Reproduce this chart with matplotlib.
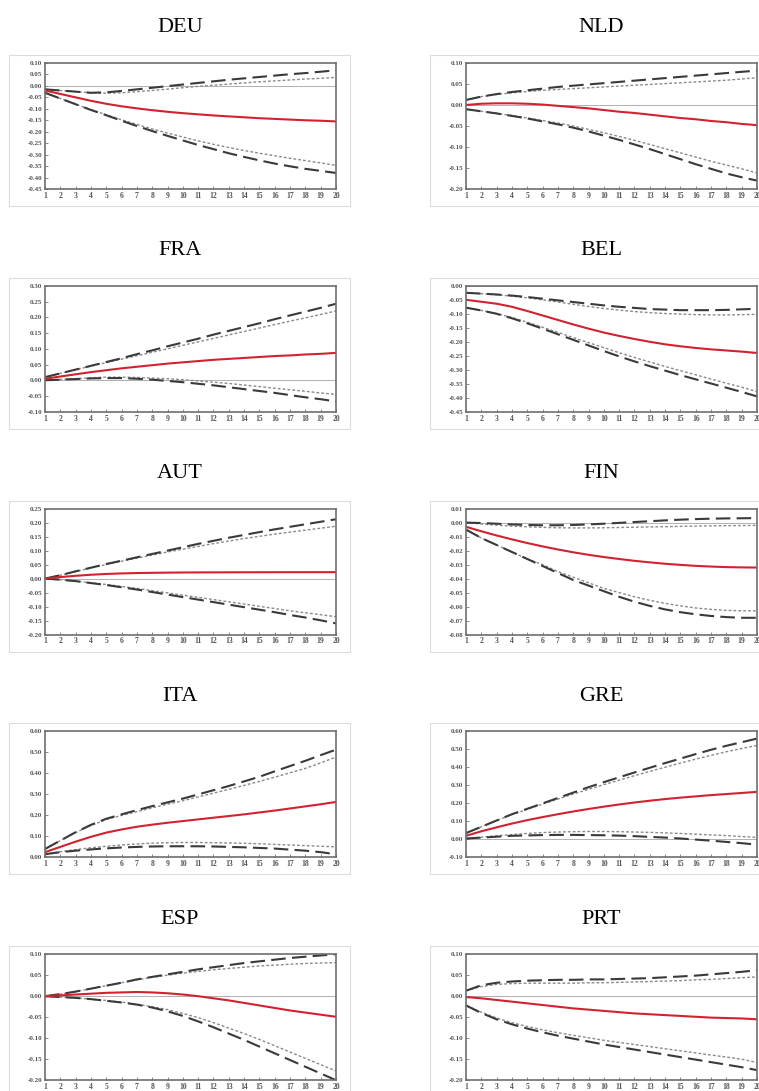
"""Impulse responses by country: median (red) with 68% (dotted) and 90% (dashed) bands."""

import matplotlib
matplotlib.use("Agg")
import matplotlib.pyplot as plt
from matplotlib.patches import Rectangle

horizon = list(range(1, 21))
countries = ["DEU", "NLD", "FRA", "BEL", "AUT", "FIN", "ITA", "GRE", "ESP", "PRT"]

y_ticks = {
    "DEU": [-0.45, -0.40, -0.35, -0.30, -0.25, -0.20, -0.15, -0.10, -0.05, 0.00, 0.05, 0.10],
    "NLD": [-0.20, -0.15, -0.10, -0.05, 0.00, 0.05, 0.10],
    "FRA": [-0.10, -0.05, 0.00, 0.05, 0.10, 0.15, 0.20, 0.25, 0.30],
    "BEL": [-0.45, -0.40, -0.35, -0.30, -0.25, -0.20, -0.15, -0.10, -0.05, 0.00],
    "AUT": [-0.20, -0.15, -0.10, -0.05, 0.00, 0.05, 0.10, 0.15, 0.20, 0.25],
    "FIN": [-0.08, -0.07, -0.06, -0.05, -0.04, -0.03, -0.02, -0.01, 0.00, 0.01],
    "ITA": [0.00, 0.10, 0.20, 0.30, 0.40, 0.50, 0.60],
    "GRE": [-0.10, 0.00, 0.10, 0.20, 0.30, 0.40, 0.50, 0.60],
    "ESP": [-0.20, -0.15, -0.10, -0.05, 0.00, 0.05, 0.10],
    "PRT": [-0.20, -0.15, -0.10, -0.05, 0.00, 0.05, 0.10],
}

# median response (red)
median = {
    "DEU": [-0.020, -0.035, -0.050, -0.065, -0.078, -0.089, -0.098, -0.106, -0.113, -0.119,
            -0.124, -0.129, -0.133, -0.137, -0.141, -0.144, -0.147, -0.150, -0.152, -0.155],
    "NLD": [0.000, 0.003, 0.004, 0.004, 0.003, 0.001, -0.002, -0.005, -0.008, -0.012,
            -0.016, -0.019, -0.023, -0.027, -0.031, -0.034, -0.038, -0.041, -0.045, -0.048],
    "FRA": [0.005, 0.012, 0.019, 0.026, 0.032, 0.038, 0.043, 0.048, 0.053, 0.057,
            0.061, 0.065, 0.068, 0.071, 0.074, 0.077, 0.079, 0.082, 0.084, 0.087],
    "BEL": [-0.050, -0.057, -0.064, -0.075, -0.090, -0.106, -0.122, -0.138, -0.153, -0.167,
            -0.179, -0.190, -0.200, -0.209, -0.216, -0.222, -0.227, -0.231, -0.235, -0.240],
    "AUT": [0.000, 0.0055, 0.0100, 0.0138, 0.0166, 0.0185, 0.0198, 0.0207, 0.0213, 0.0218,
            0.0221, 0.0223, 0.0225, 0.0226, 0.0227, 0.0228, 0.0229, 0.0229, 0.0230, 0.0230],
    "FIN": [-0.0030, -0.0062, -0.0092, -0.0120, -0.0146, -0.0170, -0.0192, -0.0212, -0.0230, -0.0246,
            -0.0260, -0.0273, -0.0284, -0.0294, -0.0302, -0.0309, -0.0314, -0.0318, -0.0320, -0.0321],
    "ITA": [0.025, 0.050, 0.075, 0.098, 0.118, 0.133, 0.146, 0.156, 0.165, 0.173,
            0.181, 0.189, 0.197, 0.205, 0.214, 0.223, 0.233, 0.243, 0.253, 0.264],
    "GRE": [0.020, 0.045, 0.067, 0.088, 0.107, 0.124, 0.140, 0.155, 0.169, 0.182,
            0.194, 0.205, 0.215, 0.224, 0.232, 0.239, 0.246, 0.252, 0.258, 0.264],
    "ESP": [0.000, 0.002, 0.004, 0.006, 0.008, 0.009, 0.010, 0.009, 0.007, 0.004,
            0.000, -0.005, -0.010, -0.016, -0.022, -0.028, -0.034, -0.039, -0.044, -0.049],
    "PRT": [-0.002, -0.005, -0.009, -0.013, -0.017, -0.021, -0.025, -0.029, -0.032, -0.035,
            -0.038, -0.041, -0.043, -0.045, -0.047, -0.049, -0.051, -0.052, -0.053, -0.055],
}

# outer band (long dashes)
upper90 = {
    "DEU": [-0.015, -0.020, -0.025, -0.030, -0.028, -0.022, -0.015, -0.008, -0.001, 0.006,
            0.013, 0.020, 0.027, 0.033, 0.039, 0.045, 0.051, 0.056, 0.062, 0.068],
    "NLD": [0.012, 0.020, 0.026, 0.031, 0.035, 0.039, 0.043, 0.046, 0.049, 0.052,
            0.055, 0.058, 0.061, 0.064, 0.067, 0.070, 0.073, 0.076, 0.079, 0.082],
    "FRA": [0.010, 0.022, 0.034, 0.046, 0.058, 0.070, 0.083, 0.095, 0.108, 0.120,
            0.132, 0.145, 0.157, 0.169, 0.181, 0.194, 0.206, 0.218, 0.230, 0.243],
    "BEL": [-0.025, -0.028, -0.031, -0.035, -0.040, -0.046, -0.052, -0.058, -0.064, -0.070,
            -0.075, -0.079, -0.083, -0.085, -0.087, -0.087, -0.087, -0.086, -0.084, -0.082],
    "AUT": [0.000, 0.012, 0.026, 0.039, 0.052, 0.064, 0.076, 0.088, 0.100, 0.112,
            0.124, 0.135, 0.146, 0.156, 0.166, 0.176, 0.185, 0.194, 0.203, 0.212],
    "FIN": [0.0000, -0.0003, -0.0008, -0.0013, -0.0017, -0.0019, -0.0019, -0.0017, -0.0013, -0.0008,
            -0.0002, 0.0004, 0.0010, 0.0016, 0.0021, 0.0025, 0.0028, 0.0030, 0.0031, 0.0032],
    "ITA": [0.040, 0.080, 0.120, 0.155, 0.184, 0.205, 0.225, 0.244, 0.262, 0.280,
            0.300, 0.320, 0.340, 0.362, 0.384, 0.410, 0.435, 0.460, 0.487, 0.513],
    "GRE": [0.035, 0.070, 0.105, 0.140, 0.170, 0.200, 0.230, 0.260, 0.290, 0.318,
            0.345, 0.372, 0.398, 0.424, 0.449, 0.474, 0.498, 0.520, 0.540, 0.560],
    "ESP": [0.000, 0.005, 0.011, 0.018, 0.025, 0.032, 0.040, 0.046, 0.052, 0.058,
            0.064, 0.069, 0.074, 0.079, 0.083, 0.087, 0.091, 0.094, 0.097, 0.100],
    "PRT": [0.013, 0.026, 0.032, 0.035, 0.037, 0.038, 0.039, 0.039, 0.040, 0.040,
            0.041, 0.042, 0.043, 0.045, 0.047, 0.049, 0.052, 0.055, 0.058, 0.062],
}
lower90 = {
    "DEU": [-0.030, -0.055, -0.080, -0.105, -0.128, -0.152, -0.175, -0.197, -0.218, -0.238,
            -0.258, -0.276, -0.294, -0.310, -0.325, -0.339, -0.351, -0.362, -0.371, -0.380],
    "NLD": [-0.010, -0.015, -0.020, -0.026, -0.032, -0.039, -0.046, -0.054, -0.063, -0.073,
            -0.083, -0.094, -0.105, -0.117, -0.129, -0.141, -0.152, -0.163, -0.172, -0.180],
    "FRA": [0.000, 0.002, 0.004, 0.006, 0.007, 0.007, 0.005, 0.002, -0.002, -0.006,
            -0.011, -0.016, -0.022, -0.028, -0.034, -0.040, -0.047, -0.054, -0.060, -0.067],
    "BEL": [-0.078, -0.088, -0.100, -0.116, -0.134, -0.153, -0.173, -0.193, -0.213, -0.233,
            -0.252, -0.270, -0.287, -0.303, -0.319, -0.334, -0.349, -0.364, -0.379, -0.395],
    "AUT": [0.000, -0.004, -0.009, -0.016, -0.023, -0.031, -0.039, -0.048, -0.057, -0.066,
            -0.075, -0.084, -0.093, -0.102, -0.111, -0.120, -0.130, -0.139, -0.149, -0.160],
    "FIN": [-0.005, -0.011, -0.016, -0.021, -0.026, -0.031, -0.036, -0.041, -0.045, -0.049,
            -0.053, -0.0565, -0.0595, -0.062, -0.064, -0.0655, -0.0667, -0.0675, -0.068, -0.068],
    "ITA": [0.015, 0.025, 0.032, 0.038, 0.043, 0.047, 0.050, 0.052, 0.053, 0.053,
            0.053, 0.052, 0.050, 0.048, 0.045, 0.042, 0.037, 0.032, 0.025, 0.015],
    "GRE": [0.005, 0.010, 0.015, 0.020, 0.022, 0.024, 0.025, 0.025, 0.024, 0.023,
            0.021, 0.018, 0.014, 0.010, 0.005, -0.001, -0.007, -0.014, -0.021, -0.029],
    "ESP": [0.000, -0.002, -0.004, -0.007, -0.011, -0.015, -0.020, -0.027, -0.036, -0.047,
            -0.060, -0.074, -0.089, -0.104, -0.120, -0.136, -0.152, -0.168, -0.184, -0.200],
    "PRT": [-0.022, -0.040, -0.055, -0.067, -0.077, -0.086, -0.094, -0.101, -0.108, -0.115,
            -0.121, -0.127, -0.133, -0.139, -0.145, -0.151, -0.157, -0.163, -0.169, -0.176],
}

# inner band (short dots)
upper68 = {
    "DEU": [-0.015, -0.020, -0.025, -0.030, -0.032, -0.030, -0.025, -0.020, -0.014, -0.008,
            -0.002, 0.003, 0.008, 0.013, 0.018, 0.022, 0.026, 0.030, 0.033, 0.037],
    "NLD": [0.012, 0.020, 0.025, 0.029, 0.032, 0.035, 0.037, 0.039, 0.041, 0.043,
            0.045, 0.047, 0.049, 0.051, 0.053, 0.055, 0.057, 0.059, 0.062, 0.065],
    "FRA": [0.010, 0.022, 0.034, 0.045, 0.056, 0.067, 0.078, 0.089, 0.100, 0.111,
            0.122, 0.133, 0.144, 0.155, 0.166, 0.177, 0.188, 0.198, 0.209, 0.220],
    "BEL": [-0.025, -0.028, -0.032, -0.037, -0.043, -0.050, -0.058, -0.066, -0.074, -0.081,
            -0.087, -0.092, -0.096, -0.099, -0.101, -0.103, -0.104, -0.104, -0.103, -0.102],
    "AUT": [0.000, 0.012, 0.025, 0.038, 0.050, 0.062, 0.073, 0.084, 0.095, 0.105,
            0.115, 0.125, 0.134, 0.143, 0.151, 0.159, 0.166, 0.173, 0.180, 0.187],
    "FIN": [0.0000, -0.0010, -0.0018, -0.0025, -0.0030, -0.0034, -0.0037, -0.0038, -0.0038, -0.0037,
            -0.0035, -0.0033, -0.0031, -0.0029, -0.0027, -0.0025, -0.0023, -0.0022, -0.0021, -0.0020],
    "ITA": [0.040, 0.080, 0.118, 0.152, 0.180, 0.200, 0.218, 0.236, 0.253, 0.270,
            0.288, 0.306, 0.324, 0.343, 0.362, 0.382, 0.403, 0.424, 0.450, 0.478],
    "GRE": [0.035, 0.070, 0.105, 0.138, 0.167, 0.196, 0.224, 0.252, 0.278, 0.304,
            0.329, 0.354, 0.378, 0.401, 0.424, 0.446, 0.467, 0.487, 0.505, 0.522],
    "ESP": [0.000, 0.005, 0.011, 0.018, 0.025, 0.032, 0.039, 0.045, 0.050, 0.055,
            0.059, 0.063, 0.066, 0.069, 0.072, 0.074, 0.076, 0.078, 0.079, 0.080],
    "PRT": [0.013, 0.023, 0.028, 0.030, 0.031, 0.031, 0.031, 0.031, 0.032, 0.032,
            0.033, 0.034, 0.035, 0.036, 0.037, 0.039, 0.040, 0.042, 0.044, 0.046],
}
lower68 = {
    "DEU": [-0.030, -0.055, -0.080, -0.104, -0.126, -0.148, -0.168, -0.188, -0.206, -0.223,
            -0.240, -0.255, -0.269, -0.282, -0.294, -0.305, -0.316, -0.326, -0.336, -0.347],
    "NLD": [-0.010, -0.015, -0.020, -0.025, -0.031, -0.037, -0.043, -0.050, -0.058, -0.066,
            -0.075, -0.084, -0.094, -0.104, -0.114, -0.124, -0.134, -0.143, -0.152, -0.162],
    "FRA": [0.000, 0.003, 0.005, 0.008, 0.010, 0.010, 0.009, 0.007, 0.005, 0.002,
            -0.002, -0.006, -0.010, -0.015, -0.020, -0.025, -0.030, -0.035, -0.040, -0.045],
    "BEL": [-0.078, -0.088, -0.099, -0.113, -0.130, -0.148, -0.166, -0.185, -0.203, -0.221,
            -0.239, -0.256, -0.272, -0.288, -0.303, -0.318, -0.333, -0.348, -0.362, -0.378],
    "AUT": [0.000, -0.004, -0.009, -0.015, -0.021, -0.028, -0.035, -0.043, -0.051, -0.059,
            -0.067, -0.075, -0.083, -0.091, -0.099, -0.107, -0.115, -0.122, -0.129, -0.136],
    "FIN": [-0.005, -0.011, -0.016, -0.021, -0.026, -0.030, -0.035, -0.039, -0.043, -0.047,
            -0.050, -0.053, -0.0555, -0.0577, -0.0595, -0.061, -0.062, -0.0627, -0.063, -0.063],
    "ITA": [0.015, 0.027, 0.037, 0.046, 0.053, 0.059, 0.064, 0.068, 0.070, 0.071,
            0.071, 0.070, 0.069, 0.067, 0.065, 0.062, 0.059, 0.056, 0.053, 0.050],
    "GRE": [0.005, 0.012, 0.020, 0.027, 0.033, 0.038, 0.041, 0.043, 0.044, 0.044,
            0.043, 0.041, 0.039, 0.036, 0.033, 0.029, 0.025, 0.021, 0.016, 0.011],
    "ESP": [0.000, -0.002, -0.004, -0.007, -0.010, -0.014, -0.019, -0.025, -0.032, -0.041,
            -0.051, -0.063, -0.076, -0.089, -0.103, -0.118, -0.133, -0.148, -0.163, -0.178],
    "PRT": [-0.022, -0.038, -0.052, -0.063, -0.072, -0.080, -0.087, -0.093, -0.099, -0.105,
            -0.110, -0.115, -0.120, -0.125, -0.130, -0.135, -0.140, -0.145, -0.150, -0.158],
}

# --- layout (pixels) ------------------------------------------------------
W, H = 759, 1091
fig = plt.figure(figsize=(W / 100, H / 100), dpi=100)
SERIF = ["Liberation Serif", "DejaVu Serif"]

col_left = [45, 466]
ax_w, ax_h = 291, 126
row_top0, row_step = 63, 222.8

for k, c in enumerate(countries):
    row, col = divmod(k, 2)
    x0 = col_left[col]
    top = row_top0 + row * row_step

    # light frame around each panel
    bx0, bx1 = x0 - 36, x0 + 305
    by0, by1 = top - 8, top + ax_h + 17
    fig.patches.append(Rectangle((bx0 / W, 1 - by1 / H), (bx1 - bx0) / W, (by1 - by0) / H,
                                 transform=fig.transFigure, fill=False,
                                 edgecolor="#dcdcdc", lw=0.8))
    fig.text((x0 + 135) / W, 1 - (top - 35) / H, c, ha="center", va="center",
             fontsize=16, family=SERIF)

    ax = fig.add_axes([x0 / W, 1 - (top + ax_h) / H, ax_w / W, ax_h / H])
    ax.axhline(0, color="#b0b0b0", lw=0.7, zorder=1)
    ax.plot(horizon, lower68[c], color="#8a8a8a", lw=1.0, dashes=(2, 1.5))
    ax.plot(horizon, upper68[c], color="#8a8a8a", lw=1.0, dashes=(2, 1.5))
    ax.plot(horizon, lower90[c], color="#3a3a3a", lw=1.5, dashes=(7, 3))
    ax.plot(horizon, upper90[c], color="#3a3a3a", lw=1.5, dashes=(7, 3))
    ax.plot(horizon, median[c], color="#d3222f", lw=1.5)

    yt = y_ticks[c]
    ax.set_xlim(1, 20)
    ax.set_ylim(yt[0], yt[-1])
    ax.set_xticks(horizon)
    ax.set_xticklabels([str(h) for h in horizon], family=SERIF, fontsize=5.5,
                       fontweight="bold", color="#555555")
    ax.set_yticks(yt)
    ax.set_yticklabels([f"{v:.2f}" for v in yt], family=SERIF, fontsize=5,
                       fontweight="bold", color="#555555")
    ax.tick_params(direction="in", length=2, width=0.6, color="#777777", pad=2)
    for s in ax.spines.values():
        s.set_color("#6e6e6e")
        s.set_linewidth(1.2)

fig.savefig("out.png", dpi=100)
